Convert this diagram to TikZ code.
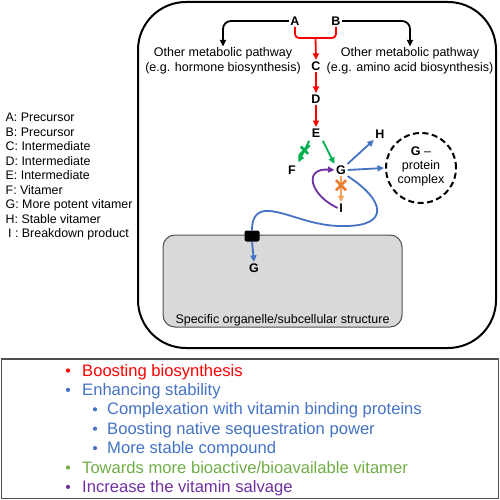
\documentclass[tikz,border=0pt]{standalone}
\usepackage{fontspec}
\setmainfont{Liberation Sans}
\usetikzlibrary{arrows.meta,shapes.misc}
\definecolor{myblue}{HTML}{4472C4}
\definecolor{mygreen}{HTML}{00B050}
\definecolor{lightgreen}{HTML}{70AD47}
\definecolor{mypurple}{HTML}{7030A0}
\definecolor{myorange}{HTML}{ED7D31}
\definecolor{lightorange}{HTML}{F4A15D}
\definecolor{boxgray}{HTML}{D9D9D9}
\definecolor{edgegray}{HTML}{505050}
\begin{document}
\begin{tikzpicture}[x=1pt,y=-1pt,
  lbl/.style={font=\fontsize{12.5}{15}\selectfont\bfseries, inner sep=1.5pt},
  txt/.style={font=\fontsize{12.5}{15}\selectfont, align=center, inner sep=1pt},
  legtxt/.style={font=\fontsize{12.4}{14.5}\selectfont, anchor=base west, inner sep=0pt},
  listtxt/.style={font=\fontsize{16.6}{19}\selectfont, anchor=base west, inner sep=0pt},
  dotmark/.style={circle, fill, inner sep=0pt, minimum size=4.2pt},
  tiphead/.style={-{Triangle[length=6.5pt,width=6pt]}},
  conn/.style={line width=1.8pt, tiphead},
  crossx/.style={cross out, draw, line width=2.6pt, minimum size=7.5pt, inner sep=0pt},
]
\useasboundingbox (0,0) rectangle (500,500);

% outer cell
\draw[line width=2pt, rounded corners=48] (138,2) rectangle (496,348);
% organelle
\draw[fill=boxgray, draw=edgegray, line width=1pt, rounded corners=12] (163,235) rectangle (402,327);
\node[txt] (org) at (282.5,320) {Specific organelle/subcellular structure};

% pathway nodes
\node[lbl] (A) at (295,21) {A};
\node[lbl] (B) at (336,21) {B};
\node[lbl] (C) at (316,66) {C};
\node[lbl] (D) at (316,99) {D};
\node[lbl] (E) at (316,133) {E};
\node[lbl] (F) at (292,170) {F};
\node[lbl] (G) at (341,170) {G};
\node[lbl] (H) at (380,134) {H};
\node[lbl] (I) at (341,208) {I};
\node[lbl] (G2) at (254,268) {G};

\node[txt] (lp) at (223,61) {Other metabolic pathway\\(e.g. hormone biosynthesis)};
\node[txt] (rp) at (410,61) {Other metabolic pathway\\(e.g. amino acid biosynthesis)};

\node[circle, draw, line width=2pt, minimum size=70pt, inner sep=0pt,
      dash pattern=on 6pt off 3.5pt] (cx) at (421,168) {};
\node[txt, font=\fontsize{12.5}{14}\selectfont] (cxt) at (421,166) {\textbf{G} –\\protein\\complex};

\node[fill=black, rounded corners=2pt, minimum width=15pt, minimum height=11pt, inner sep=0pt] (tr) at (252,236) {};

% black arrows to other pathways
\draw[conn, rounded corners=8] (A.west) -| (lp.north);
\draw[conn, rounded corners=8] (B.east) -| (rp.north);

% red biosynthesis
\coordinate (br) at (315.5,38);
\draw[red, line width=1.8pt, rounded corners=4] (A.south) |- (br) -| (B.south);
\draw[conn, red] (br) -- (C.north);
\draw[conn, red] (C.south) -- (D.north);
\draw[conn, red] (D.south) -- (E.north);

% green
\draw[conn, mygreen, shorten <=2pt] (E.south east) -- (G.north west);
\draw[conn, mygreen, shorten <=2pt, shorten >=2pt] (E.south west) -- node[crossx, draw=mygreen, pos=0.45] (xg) {} (F.north east);

% blue
\draw[conn, myblue] (G.north east) -- (H.south west);
\draw[conn, myblue] (G.east) -- ([xshift=-1pt]cx.west);
\draw[myblue, line width=1.8pt] (G.south east) .. controls (385,200) and (390,226) .. (345,226)
   .. controls (310,227) and (285,210) .. (265,211)
   .. controls (255,212) and (252,220) .. (tr.north);
\draw[conn, myblue] (tr.south) -- (G2.north);

% orange
\draw[conn, lightorange] (G.south) -- node[crossx, draw=myorange, pos=0.35] (xo) {} (I.north);

% purple
\draw[conn, mypurple] (I.west) .. controls (310,195) and (303,168) .. (G.west);

% legend
\foreach \t [count=\k] in {A: Precursor, B: Precursor, C: Intermediate, D: Intermediate,
   E: Intermediate, F: Vitamer, G: More potent vitamer, H: Stable vitamer, \hspace{2.5pt}I : Breakdown product}
  \node[legtxt] (leg\k) at (5.5,{121.5+14.5*(\k-1)}) {\t};

% bottom box
\draw[draw=edgegray, line width=1.2pt] (1.5,359) rectangle (498.5,498.5);
\node[dotmark, red] (b1) at (68,370.5) {};
\node[listtxt, text=red] (t1) at (82,376) {Boosting biosynthesis};
\node[dotmark, myblue] (b2) at (68,389.9) {};
\node[listtxt, text=myblue] (t2) at (82,395.4) {Enhancing stability};
\node[dotmark, myblue] (b3) at (95,409.3) {};
\node[listtxt, text=myblue] (t3) at (107,414.8) {Complexation with vitamin binding proteins};
\node[dotmark, myblue] (b4) at (95,428.7) {};
\node[listtxt, text=myblue] (t4) at (107,434.2) {Boosting native sequestration power};
\node[dotmark, myblue] (b5) at (95,448.1) {};
\node[listtxt, text=myblue] (t5) at (107,453.6) {More stable compound};
\node[dotmark, lightgreen] (b6) at (68,467.5) {};
\node[listtxt, text=lightgreen] (t6) at (82,473) {Towards more bioactive/bioavailable vitamer};
\node[dotmark, mypurple] (b7) at (68,486.9) {};
\node[listtxt, text=mypurple] (t7) at (82,492.4) {Increase the vitamin salvage};
\end{tikzpicture}
\end{document}
